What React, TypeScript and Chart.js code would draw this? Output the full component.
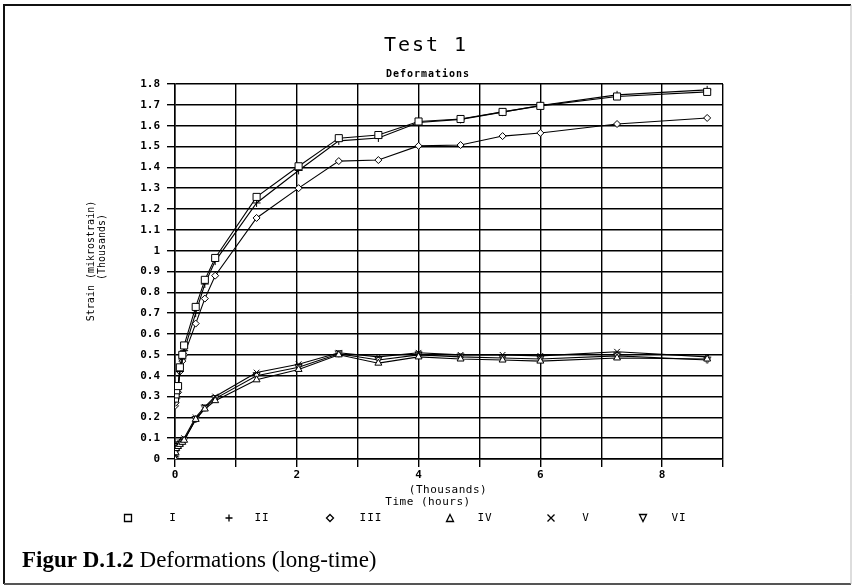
import React, { useEffect, useRef } from 'react';
import { Chart, registerables } from 'chart.js';

Chart.register(...registerables);

// Time in thousands of hours
const TIMES_K = [0, 0.01, 0.02, 0.05, 0.08, 0.12, 0.15, 0.34, 0.49, 0.66, 1.34, 2.03, 2.69, 3.34, 4.0, 4.69, 5.38, 6.0, 7.26, 8.74];

// Strain in thousands of mikrostrain
const SERIES_I = [0.29, 0.31, 0.33, 0.35, 0.44, 0.5, 0.545, 0.73, 0.86, 0.965, 1.258, 1.405, 1.54, 1.555, 1.62, 1.632, 1.666, 1.695, 1.74, 1.762];
const SERIES_II = [0.28, 0.3, 0.32, 0.34, 0.42, 0.48, 0.52, 0.7, 0.84, 0.95, 1.229, 1.385, 1.527, 1.541, 1.615, 1.63, 1.665, 1.697, 1.748, 1.772];
const SERIES_III = [0.255, 0.27, 0.29, 0.32, 0.42, 0.47, 0.5, 0.65, 0.77, 0.88, 1.157, 1.3, 1.43, 1.435, 1.503, 1.507, 1.55, 1.565, 1.608, 1.637];
const SERIES_IV = [0, 0.03, 0.05, 0.06, 0.07, 0.08, 0.09, 0.19, 0.24, 0.28, 0.38, 0.43, 0.5, 0.46, 0.49, 0.48, 0.475, 0.47, 0.485, 0.48];
const SERIES_V = [0, 0.04, 0.06, 0.07, 0.08, 0.09, 0.1, 0.2, 0.25, 0.3, 0.415, 0.455, 0.51, 0.49, 0.51, 0.5, 0.5, 0.495, 0.515, 0.49];
const SERIES_VI = [0, 0.03, 0.05, 0.06, 0.07, 0.08, 0.09, 0.19, 0.245, 0.29, 0.4, 0.44, 0.505, 0.475, 0.5, 0.49, 0.485, 0.48, 0.495, 0.475];

const SERIES_LABELS = ['I', 'II', 'III', 'IV', 'V', 'VI'];
const SERIES_VALUES = [SERIES_I, SERIES_II, SERIES_III, SERIES_IV, SERIES_V, SERIES_VI];
const SERIES_MARKERS = ['rect', 'cross', 'rectRot', 'triangle', 'crossRot', 'invTriangle'];

const TITLE = 'Test 1';
const SUBTITLE = 'Deformations';
const Y_TITLE = ['Strain (mikrostrain)', '(Thousands)'];
const X_TITLE = ['(Thousands)', 'Time (hours)'];
const CAPTION_BOLD = 'Figur D.1.2';
const CAPTION_TEXT = ' Deformations (long-time)';

const X_MIN = 0;
const X_MAX = 9;
const Y_MIN = 0;
const Y_MAX = 1.8;

const MONO = '"DejaVu Sans Mono", monospace';

function makeInvTriangle(size: number): HTMLCanvasElement {
  const c = document.createElement('canvas');
  c.width = size;
  c.height = size;
  const g = c.getContext('2d')!;
  g.fillStyle = '#fff';
  g.strokeStyle = '#000';
  g.lineWidth = 1;
  g.beginPath();
  g.moveTo(1, 1.5);
  g.lineTo(size - 1, 1.5);
  g.lineTo(size / 2, size - 1);
  g.closePath();
  g.fill();
  g.stroke();
  return c;
}

function drawLegendMarker(ctx: CanvasRenderingContext2D, kind: string, x: number, y: number) {
  ctx.save();
  ctx.strokeStyle = '#000';
  ctx.lineWidth = 1.3;
  ctx.beginPath();
  const r = 3.5;
  if (kind === 'rect') {
    ctx.rect(x - r, y - r, 2 * r, 2 * r);
  } else if (kind === 'cross') {
    ctx.moveTo(x - r, y); ctx.lineTo(x + r, y);
    ctx.moveTo(x, y - r); ctx.lineTo(x, y + r);
  } else if (kind === 'rectRot') {
    ctx.moveTo(x, y - r); ctx.lineTo(x + r, y); ctx.lineTo(x, y + r); ctx.lineTo(x - r, y); ctx.closePath();
  } else if (kind === 'triangle') {
    ctx.moveTo(x, y - r); ctx.lineTo(x + r, y + r); ctx.lineTo(x - r, y + r); ctx.closePath();
  } else if (kind === 'crossRot') {
    ctx.moveTo(x - r, y - r); ctx.lineTo(x + r, y + r);
    ctx.moveTo(x + r, y - r); ctx.lineTo(x - r, y + r);
  } else {
    ctx.moveTo(x - r, y - r); ctx.lineTo(x + r, y - r); ctx.lineTo(x, y + r); ctx.closePath();
  }
  ctx.stroke();
  ctx.restore();
}

const LEGEND_MARKER_X = [128, 229, 330, 450, 551, 643];
const LEGEND_LABEL_X = [173, 262, 371, 485, 586, 679];

const textPlugin = {
  id: 'figureTexts',
  afterDraw(chart: any) {
    const ctx: CanvasRenderingContext2D = chart.ctx;
    ctx.save();
    ctx.fillStyle = '#000';
    ctx.textAlign = 'center';
    ctx.textBaseline = 'middle';

    ctx.font = `20px ${MONO}`;
    (ctx as any).letterSpacing = '2px';
    ctx.fillText(TITLE, 426, 46);

    ctx.font = `bold 10px ${MONO}`;
    (ctx as any).letterSpacing = '1px';
    ctx.fillText(SUBTITLE, 428, 74);

    // y axis titles
    ctx.font = `10px ${MONO}`;
    (ctx as any).letterSpacing = '0px';
    ctx.save();
    ctx.translate(91, 261);
    ctx.rotate(-Math.PI / 2);
    ctx.fillText(Y_TITLE[0], 0, 0);
    ctx.restore();
    ctx.save();
    ctx.translate(102, 247);
    ctx.rotate(-Math.PI / 2);
    ctx.fillText(Y_TITLE[1], 0, 0);
    ctx.restore();

    // x axis titles
    ctx.font = `11px ${MONO}`;
    (ctx as any).letterSpacing = '0.5px';
    ctx.fillText(X_TITLE[0], 448, 490);
    ctx.fillText(X_TITLE[1], 428, 502);

    // legend
    ctx.font = `11px ${MONO}`;
    (ctx as any).letterSpacing = '1px';
    SERIES_LABELS.forEach((lab, i) => {
      drawLegendMarker(ctx, SERIES_MARKERS[i], LEGEND_MARKER_X[i], 518);
      ctx.fillText(lab, LEGEND_LABEL_X[i], 518);
    });

    // caption
    (ctx as any).letterSpacing = '0px';
    ctx.textAlign = 'left';
    ctx.textBaseline = 'alphabetic';
    ctx.font = 'bold 23px "Liberation Serif", serif';
    ctx.fillText(CAPTION_BOLD, 22, 567);
    const w = ctx.measureText(CAPTION_BOLD).width;
    ctx.font = '23px "Liberation Serif", serif';
    ctx.fillText(CAPTION_TEXT, 22 + w, 567);

    // frame
    ctx.lineWidth = 2;
    ctx.strokeStyle = '#111';
    ctx.beginPath();
    ctx.moveTo(4, 584);
    ctx.lineTo(4, 5);
    ctx.lineTo(851, 5);
    ctx.stroke();
    ctx.beginPath();
    ctx.strokeStyle = '#555';
    ctx.moveTo(4, 584);
    ctx.lineTo(851, 584);
    ctx.stroke();
    ctx.beginPath();
    ctx.lineWidth = 1;
    ctx.strokeStyle = '#bbb';
    ctx.moveTo(851, 5);
    ctx.lineTo(851, 584);
    ctx.stroke();
    ctx.restore();
  },
};

const whiteBg = {
  id: 'whiteBg',
  beforeDraw(chart: any) {
    const ctx = chart.ctx;
    ctx.save();
    ctx.fillStyle = '#fff';
    ctx.fillRect(0, 0, chart.width, chart.height);
    ctx.restore();
  },
};

export default function App() {
  const ref = useRef<HTMLCanvasElement | null>(null);

  useEffect(() => {
    if (!ref.current) return;
    const inv = makeInvTriangle(9);
    const datasets = SERIES_VALUES.map((vals, i) => {
      const marker = SERIES_MARKERS[i];
      return {
        label: SERIES_LABELS[i],
        data: TIMES_K.map((t, j) => ({ x: t, y: vals[j] })),
        borderColor: '#000',
        borderWidth: 1.1,
        backgroundColor: '#fff',
        pointBackgroundColor: '#fff',
        pointBorderColor: '#000',
        pointBorderWidth: 1,
        pointStyle: marker === 'invTriangle' ? inv : marker,
        pointRadius: marker === 'rect' ? 5 : marker === 'rectRot' ? 3.5 : 4,
        tension: 0,
        fill: false,
      };
    });

    const chart = new Chart(ref.current, {
      type: 'line',
      data: { datasets: datasets as any },
      options: {
        animation: false,
        responsive: false,
        maintainAspectRatio: false,
        layout: { padding: { top: 84, right: 130, left: 0, bottom: 0 } },
        plugins: {
          legend: { display: false },
          title: { display: false },
          tooltip: { enabled: false },
        },
        scales: {
          x: {
            type: 'linear',
            min: X_MIN,
            max: X_MAX,
            afterFit: (scale: any) => {
              scale.height = 587 - 459;
            },
            ticks: {
              stepSize: 1,
              autoSkip: false,
              maxRotation: 0,
              padding: 2,
              color: '#000',
              font: { family: MONO, size: 11, weight: 'bold' },
              callback: (v: any) => (Number(v) % 2 === 0 ? String(v) : ''),
            },
            grid: { color: '#000', lineWidth: 1.4, tickLength: 8, tickColor: '#000' },
            border: { color: '#000', width: 1.5 },
          },
          y: {
            type: 'linear',
            min: Y_MIN,
            max: Y_MAX,
            afterFit: (scale: any) => {
              scale.width = 175;
            },
            ticks: {
              stepSize: 0.1,
              autoSkip: false,
              padding: 7,
              color: '#000',
              font: { family: MONO, size: 11, weight: 'bold' },
              callback: (v: any) => String(Math.round(Number(v) * 10) / 10),
            },
            grid: { color: '#000', lineWidth: 1.4, tickLength: 8, tickColor: '#000' },
            border: { color: '#000', width: 1.5 },
          },
        },
      },
      plugins: [whiteBg, textPlugin],
    });
    return () => chart.destroy();
  }, []);

  return (
    <div style={{ position: 'absolute', left: 0, top: 0, width: 853, height: 587, background: '#fff' }}>
      <canvas ref={ref} width={853} height={587} style={{ display: 'block', width: 853, height: 587 }} />
    </div>
  );
}
